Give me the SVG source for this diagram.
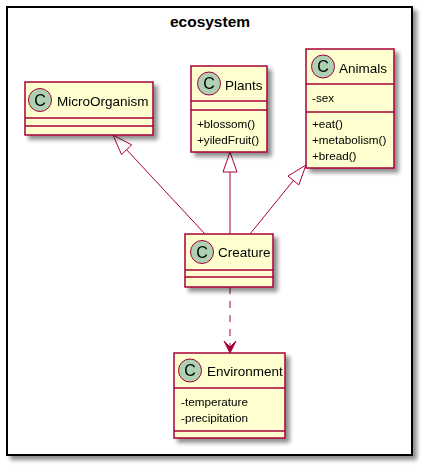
<svg xmlns="http://www.w3.org/2000/svg" width="423" height="468" viewBox="0 0 423 468">
<defs>
<filter id="sh" x="-20%" y="-20%" width="150%" height="150%">
<feGaussianBlur in="SourceAlpha" stdDeviation="2" result="b"/>
<feOffset in="b" dx="4" dy="4" result="o"/>
<feComponentTransfer in="o" result="s"><feFuncA type="linear" slope="0.45"/></feComponentTransfer>
<feMerge><feMergeNode in="s"/><feMergeNode in="SourceGraphic"/></feMerge>
</filter>
</defs>
<style>
.box{fill:#FEFECE;stroke:#A80036;stroke-width:1.5}
.div{stroke:#A80036;stroke-width:1.5}
.circ{fill:#ADD1B2;stroke:#A80036;stroke-width:1}
.cl{font-family:"Liberation Sans",Arial,sans-serif;font-size:16px;fill:#000;text-anchor:middle}
.name{font-family:"Liberation Sans",Arial,sans-serif;font-size:13.5px;fill:#000}
.mem{font-family:"Liberation Sans",Arial,sans-serif;font-size:11.7px;fill:#000}
.edge{stroke:#A80036;stroke-width:1;fill:none}
.tri{fill:#FFFFFF;stroke:#A80036;stroke-width:1}
</style>
<g id="ecosystem">
<rect x="7" y="7" width="405" height="448" fill="#FFFFFF" stroke="#000000" stroke-width="2" filter="url(#sh)"/>
<text x="210" y="27" font-family="Liberation Sans,Arial,sans-serif" font-size="15.5" font-weight="bold" text-anchor="middle">ecosystem</text>
</g>
<g id="connectors">
<path class="edge" d="M205,234 L126.6,149.7"/>
<polygon class="tri" points="113,135 121.5,154.5 131.7,144.9"/>
<path class="edge" d="M230,234 L230,172"/>
<polygon class="tri" points="230,152 223,172 237,172"/>
<path class="edge" d="M250,234 L293.4,180.5"/>
<polygon class="tri" points="306,165 298.8,184.9 288,176.1"/>
<path class="edge" d="M230,287 L230,351" stroke-dasharray="7,7"/>
<polygon points="230,353 224,341 230,347 236,341" fill="#A80036" stroke="#A80036" stroke-width="1"/>
</g>
<g id="MicroOrganism" filter="url(#sh)">
<rect class="box" x="25" y="82" width="128" height="53"/>
<line class="div" x1="25" y1="118" x2="153" y2="118"/>
<line class="div" x1="25" y1="126" x2="153" y2="126"/>
<circle class="circ" cx="40" cy="100" r="11.5"/>
<text class="cl" x="40" y="105.8">C</text>
<text class="name" x="57" y="106">MicroOrganism</text>
</g>
<g id="Plants" filter="url(#sh)">
<rect class="box" x="191" y="66" width="76" height="86"/>
<line class="div" x1="191" y1="101" x2="267" y2="101"/>
<line class="div" x1="191" y1="110" x2="267" y2="110"/>
<circle class="circ" cx="209" cy="83.5" r="11.5"/>
<text class="cl" x="209" y="89.3">C</text>
<text class="name" x="225" y="89.5">Plants</text>
<text class="mem" x="197" y="128">+blossom()</text>
<text class="mem" x="197" y="144">+yiledFruit()</text>
</g>
<g id="Animals" filter="url(#sh)">
<rect class="box" x="306" y="49" width="88" height="119"/>
<line class="div" x1="306" y1="84" x2="394" y2="84"/>
<line class="div" x1="306" y1="112" x2="394" y2="112"/>
<circle class="circ" cx="323" cy="66.5" r="11.5"/>
<text class="cl" x="323" y="72.3">C</text>
<text class="name" x="339" y="72.5">Animals</text>
<text class="mem" x="312" y="102">-sex</text>
<text class="mem" x="312" y="128">+eat()</text>
<text class="mem" x="312" y="144">+metabolism()</text>
<text class="mem" x="312" y="160">+bread()</text>
</g>
<g id="Creature" filter="url(#sh)">
<rect class="box" x="185" y="234" width="88" height="53"/>
<line class="div" x1="185" y1="270" x2="273" y2="270"/>
<line class="div" x1="185" y1="277" x2="273" y2="277"/>
<circle class="circ" cx="202" cy="252" r="11.5"/>
<text class="cl" x="202" y="257.8">C</text>
<text class="name" x="218" y="257">Creature</text>
</g>
<g id="Environment" filter="url(#sh)">
<rect class="box" x="174" y="353" width="111" height="85"/>
<line class="div" x1="174" y1="388" x2="285" y2="388"/>
<line class="div" x1="174" y1="431" x2="285" y2="431"/>
<circle class="circ" cx="190" cy="370.5" r="11.5"/>
<text class="cl" x="190" y="376.3">C</text>
<text class="name" x="207" y="376">Environment</text>
<text class="mem" x="181" y="406">-temperature</text>
<text class="mem" x="181" y="422">-precipitation</text>
</g>
</svg>
